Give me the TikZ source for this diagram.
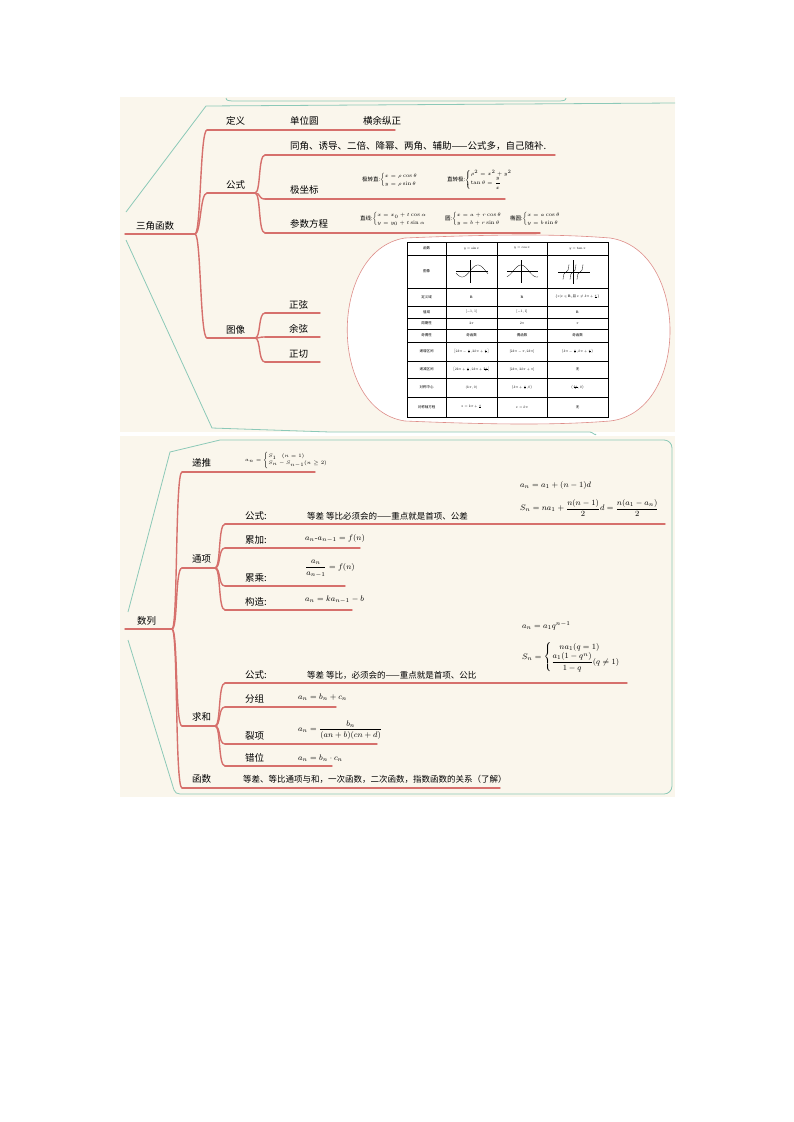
\documentclass[tikz,border=0pt]{standalone}
\usepackage{amsmath}
\usepackage{fontspec}
\newfontfamily\cjk{Noto Sans CJK SC}
\usetikzlibrary{calc}
\definecolor{cream}{HTML}{FAF6EC}
\definecolor{br}{HTML}{D6706C}
\definecolor{tl}{HTML}{8CC9B8}
\tikzset{
  brl/.style={draw=br,line width=1.4pt,line cap=round},
  tline/.style={draw=tl,line width=0.8pt},
  lab/.style={font=\cjk\fontsize{9.5}{11}\selectfont,inner sep=0pt,anchor=west},
  fml/.style={font=\fontsize{8}{9}\selectfont,inner sep=0pt,anchor=west},
  sfml/.style={font=\fontsize{5.5}{6}\selectfont,inner sep=0pt,anchor=west},
  cell/.style={font=\cjk\fontsize{7}{8}\selectfont,inner sep=0pt,scale=0.5},
}
\newcommand{\brc}[2]{\draw[brl] (#1) .. controls ($(#1)+(6,0)$) and ($(#2)+(-7,0)$) .. (#2);}
\begin{document}
\begin{tikzpicture}[x=1pt,y=-1pt]
\useasboundingbox (0,0) rectangle (794,1122);
\fill[white] (0,0) rectangle (794,1122);
% panels
\fill[cream] (120,97) rectangle (675,432);
\fill[cream] (120,436) rectangle (675,797);
\draw[tline] (226,98) to[out=-90,in=180] (232,101) -- (560,101) to[out=0,in=-90] (566,98);
\draw[tline] (126,212) -- (206,106) -- (675,103);
\draw[tline] (126,240) -- (212,428) -- (330,432) -- (590,432) to[out=0,in=-90] (596,434);
\draw[tline] (128,612) -- (170,452) -- (220,440) -- (664,440) to[out=0,in=90] (672,448) -- (672,786) to[out=-90,in=0] (664,794) -- (180,794) to[out=180,in=-70] (174,790) -- (128,640);

% ===== top: 三角函数
\coordinate (r1s) at (125,234); \coordinate (r1) at (195,234);
\draw[brl] (r1s) -- (r1);
\node[lab] (t1) at (136,226) {三角函数};
% 定义
\coordinate (dy) at (207,130); \coordinate (dye) at (395,130);
\brc{r1}{dy} \draw[brl] (dy) -- (dye);
\node[lab] (dyt) at (226,121) {定义};
\node[lab] (dy1) at (290,121) {单位圆};
\node[lab] (dy2) at (363,121) {横余纵正};
% 公式
\coordinate (gs) at (207,193); \coordinate (gse) at (255,193);
\brc{r1}{gs} \draw[brl] (gs) -- (gse);
\node[lab] (gst) at (226,185) {公式};
\coordinate (g1) at (265,155); \coordinate (g1e) at (555,155);
\coordinate (g2) at (265,199); \coordinate (g2e) at (505,199);
\coordinate (g3) at (265,233); \coordinate (g3e) at (540,233);
\brc{gse}{g1}\brc{gse}{g2}\brc{gse}{g3}
\draw[brl] (g1)--(g1e); \draw[brl] (g2)--(g2e); \draw[brl] (g3)--(g3e);
\node[lab] (g1t) at (290,146) {同角、诱导、二倍、降幂、两角、辅助——公式多，自己随补.};
\node[lab] (g2t) at (290,190) {极坐标};
\node[lab] (g3t) at (290,224) {参数方程};
\node[sfml] (jz) at (362,180) {{\cjk 极转直:}$\begin{cases}x=\rho\cos\theta\\ y=\rho\sin\theta\end{cases}$};
\node[sfml] (zj) at (447,180) {{\cjk 直转极:}$\begin{cases}\rho^2=x^2+y^2\\ \tan\theta=\dfrac{y}{x}\end{cases}$};
\node[sfml] (cs1) at (360,219) {{\cjk 直线:}$\begin{cases}x=x_0+t\cos\alpha\\ y=y_0+t\sin\alpha\end{cases}$};
\node[sfml] (cs2) at (445,219) {{\cjk 圆:}$\begin{cases}x=a+r\cos\theta\\ y=b+r\sin\theta\end{cases}$};
\node[sfml] (cs3) at (510,219) {{\cjk 椭圆:}$\begin{cases}x=a\cos\theta\\ y=b\sin\theta\end{cases}$};
% 图像
\coordinate (tx) at (207,338); \coordinate (txe) at (255,338);
\brc{r1}{tx} \draw[brl] (tx) -- (txe);
\node[lab] (txt) at (226,330) {图像};
\foreach \yy/\tt/\nm in {313/正弦/zx,337/余弦/yx,362/正切/zq}{
  \coordinate (\nm) at (265,\yy); \coordinate (\nm e) at (320,\yy);
  \brc{txe}{\nm} \draw[brl] (\nm)--(\nm e);
  \node[lab] (\nm t) at (289,\yy-8) {\tt};
}
% table
\filldraw[fill=white,draw=br!80,line width=0.6pt] (405,238) .. controls (500,234) and (560,234) .. (610,238) .. controls (690,250) and (690,412) .. (610,421) .. controls (560,425) and (500,425) .. (405,421) .. controls (328,410) and (328,250) .. (405,238);
\draw[line width=0.3pt] (407,242) rectangle (608,417);
\foreach \x in {446,497,547} \draw[line width=0.3pt] (\x,242)--(\x,417);
\foreach \y in {255,288,306,318,329,342,361,378,397} \draw[line width=0.3pt] (407,\y)--(608,\y);
\def\cx{426.5} \def\cA{471.5} \def\cB{522} \def\cC{577.5}
\foreach \y/\ca/\cb/\cc/\cd in {
 248.5/函数/{$y=\sin x$}/{$y=\cos x$}/{$y=\tan x$},
 297/定义域/{$\mathbf{R}$}/{$\mathbf{R}$}/{$\{x|x\in\mathbf{R}$, 且 $x\neq k\pi+\frac{\pi}{2}\}$},
 312/值域/{$[-1,1]$}/{$[-1,1]$}/{$\mathbf{R}$},
 323.5/周期性/{$2\pi$}/{$2\pi$}/{$\pi$},
 335.5/奇偶性/奇函数/偶函数/奇函数,
 351.5/递增区间/{$\left[2k\pi-\frac{\pi}{2},2k\pi+\frac{\pi}{2}\right]$}/{$[2k\pi-\pi,2k\pi]$}/{$\left(k\pi-\frac{\pi}{2},k\pi+\frac{\pi}{2}\right)$},
 369.5/递减区间/{$\left[2k\pi+\frac{\pi}{2},2k\pi+\frac{3\pi}{2}\right]$}/{$[2k\pi,2k\pi+\pi]$}/无,
 387.5/对称中心/{$(k\pi,0)$}/{$\left(k\pi+\frac{\pi}{2},0\right)$}/{$\left(\frac{k\pi}{2},0\right)$},
 407/对称轴方程/{$x=k\pi+\frac{\pi}{2}$}/{$x=k\pi$}/无}{
 \node[cell] at (\cx,\y) {\ca};
 \node[cell] at (\cA,\y) {\cb};
 \node[cell] at (\cB,\y) {\cc};
 \node[cell] at (\cC,\y) {\cd};
}
\node[cell] (tim) at (\cx,271.5) {图像};
\begin{scope}[line width=0.3pt]
 \draw (456,271)--(488,271); \draw (470,260)--(470,283);
 \draw[domain=456:488,samples=30] plot (\x,{271-6*sin(deg((\x-470)/5))});
 \draw (507,271)--(538,271); \draw (521,260)--(521,283);
 \draw[domain=507:538,samples=30] plot (\x,{271-6*cos(deg((\x-521)/5))});
 \draw (558,272)--(590,272); \draw (573,260)--(573,284);
 \foreach \k in {-7,0,7} \draw[domain=-3:3,samples=12] plot ({573+\k+\x},{272-1.6*tan(deg(\x/2.2))});
\end{scope}

% ===== bottom: 数列
\coordinate (r2s) at (125,629); \coordinate (r2) at (172,629);
\draw[brl] (r2s)--(r2);
\node[lab] (t2) at (137,621) {数列};
% 递推
\coordinate (dt) at (182,472); \coordinate (dte) at (315,472);
\brc{r2}{dt} \draw[brl] (dt)--(dte);
\node[lab] (dtt) at (192,463) {递推};
\node[sfml] (dtf) at (245,460) {$a_n=\begin{cases}S_1\quad (n=1)\\ S_n-S_{n-1}(n\ge 2)\end{cases}$};
% 通项
\coordinate (tx2) at (182,568); \coordinate (tx2e) at (215,568);
\brc{r2}{tx2} \draw[brl] (tx2)--(tx2e);
\node[lab] (tx2t) at (192,559) {通项};
\foreach \yy/\ee/\tt/\nm in {524/665/公式:/ta,548/360/累加:/tb,586/345/累乘:/tc,610/352/构造:/td}{
  \coordinate (\nm) at (225,\yy); \coordinate (\nm e) at (\ee,\yy);
  \brc{tx2e}{\nm} \draw[brl] (\nm)--(\nm e);
  \node[lab] (\nm t) at (245,\yy-8) {\tt};
}
\node[lab,font=\cjk\fontsize{8.5}{10}\selectfont] (taf) at (307,516) {等差 等比必须会的——重点就是首项、公差};
\node[fml] (taf1) at (520,485) {$a_n=a_1+(n-1)d$};
\node[fml] (taf2) at (520,508) {$S_n=na_1+\dfrac{n(n-1)}{2}d=\dfrac{n(a_1-a_n)}{2}$};
\node[fml] (tbf) at (305,538) {$a_n\text{-}a_{n-1}=f(n)$};
\node[fml] (tcf) at (305,569) {$\dfrac{a_n}{a_{n-1}}=f(n)$};
\node[fml] (tdf) at (305,600) {$a_n=ka_{n-1}-b$};
% 求和
\coordinate (qh) at (182,726); \coordinate (qhe) at (215,726);
\brc{r2}{qh} \draw[brl] (qh)--(qhe);
\node[lab] (qht) at (192,717) {求和};
\foreach \yy/\ee/\tt/\nm in {683/627/公式:/qa,707/336/分组/qb,744/377/裂项/qc,766/332/错位/qd}{
  \coordinate (\nm) at (225,\yy); \coordinate (\nm e) at (\ee,\yy);
  \brc{qhe}{\nm} \draw[brl] (\nm)--(\nm e);
  \node[lab] (\nm t) at (245,\yy-8) {\tt};
}
\node[lab,font=\cjk\fontsize{8.5}{10}\selectfont] (qaf) at (307,675) {等差 等比，必须会的——重点就是首项、公比};
\node[fml] (qaf1) at (522,626) {$a_n=a_1q^{n-1}$};
\node[fml] (qaf2) at (522,657) {$S_n=\begin{cases}\quad na_1(q=1)\\ \dfrac{a_1(1-q^n)}{1-q}(q\neq 1)\end{cases}$};
\node[fml] (qbf) at (298,697) {$a_n=b_n+c_n$};
\node[fml] (qcf) at (298,730) {$a_n=\dfrac{b_n}{(an+b)(cn+d)}$};
\node[fml] (qdf) at (298,758) {$a_n=b_n\cdot c_n$};
% 函数
\coordinate (hs) at (182,788); \coordinate (hse) at (500,788);
\brc{r2}{hs} \draw[brl] (hs)--(hse);
\node[lab] (hst) at (192,779) {函数};
\node[lab,font=\cjk\fontsize{8.5}{10}\selectfont] (hsf) at (243,779) {等差、等比通项与和，一次函数，二次函数，指数函数的关系（了解）};
\end{tikzpicture}
\end{document}
